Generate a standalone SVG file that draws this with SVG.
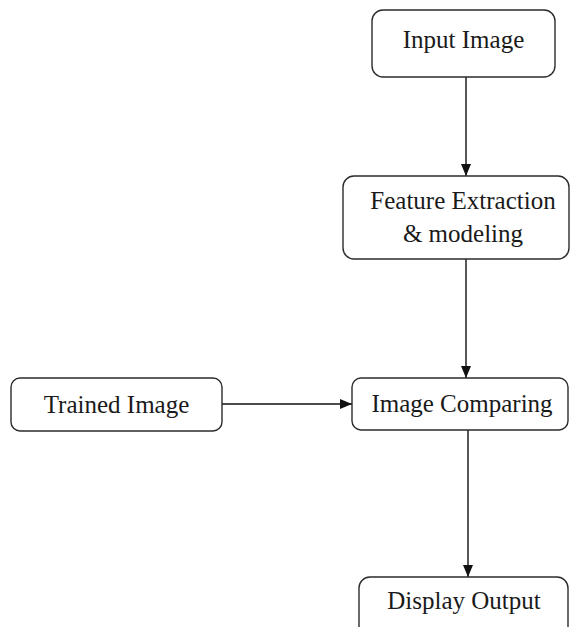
<svg xmlns="http://www.w3.org/2000/svg" width="571" height="627" viewBox="0 0 571 627">
<style>
.box{fill:#fff;stroke:#2b2b2b;stroke-width:1.4}
.t{font-family:"Liberation Serif","Times New Roman",serif;font-size:25px;fill:#1a1a1a;text-anchor:middle}
.c{stroke:#111;stroke-width:1.4;fill:none}
</style>
<defs>
<marker id="ah" viewBox="0 0 12 10" refX="12" refY="5" markerWidth="12" markerHeight="10" markerUnits="userSpaceOnUse" orient="auto">
<path d="M0,0 L12,5 L0,10 z" fill="#111"/>
</marker>
</defs>
<rect width="571" height="627" fill="#fff"/>
<g id="connectors">
<line class="c" x1="466" y1="77" x2="466" y2="176" marker-end="url(#ah)"/>
<line class="c" x1="466" y1="259" x2="466" y2="378" marker-end="url(#ah)"/>
<line class="c" x1="222" y1="404" x2="352" y2="404" marker-end="url(#ah)"/>
<line class="c" x1="468" y1="430" x2="468" y2="577" marker-end="url(#ah)"/>
</g>
<g id="input-image">
<rect class="box" x="372" y="10" width="183" height="67" rx="11"/>
<text class="t" x="463.5" y="48">Input Image</text>
</g>
<g id="feature-extraction">
<rect class="box" x="343" y="176" width="226" height="83" rx="11"/>
<text class="t" x="463" y="209">Feature Extraction</text>
<text class="t" x="463" y="242">&amp; modeling</text>
</g>
<g id="trained-image">
<rect class="box" x="11" y="378" width="211" height="53" rx="9"/>
<text class="t" x="116.5" y="413">Trained Image</text>
</g>
<g id="image-comparing">
<rect class="box" x="352" y="378" width="216" height="52" rx="9"/>
<text class="t" x="462" y="412">Image Comparing</text>
</g>
<g id="display-output">
<rect class="box" x="359" y="577" width="209" height="70" rx="11"/>
<text class="t" x="464" y="609">Display Output</text>
</g>
</svg>
